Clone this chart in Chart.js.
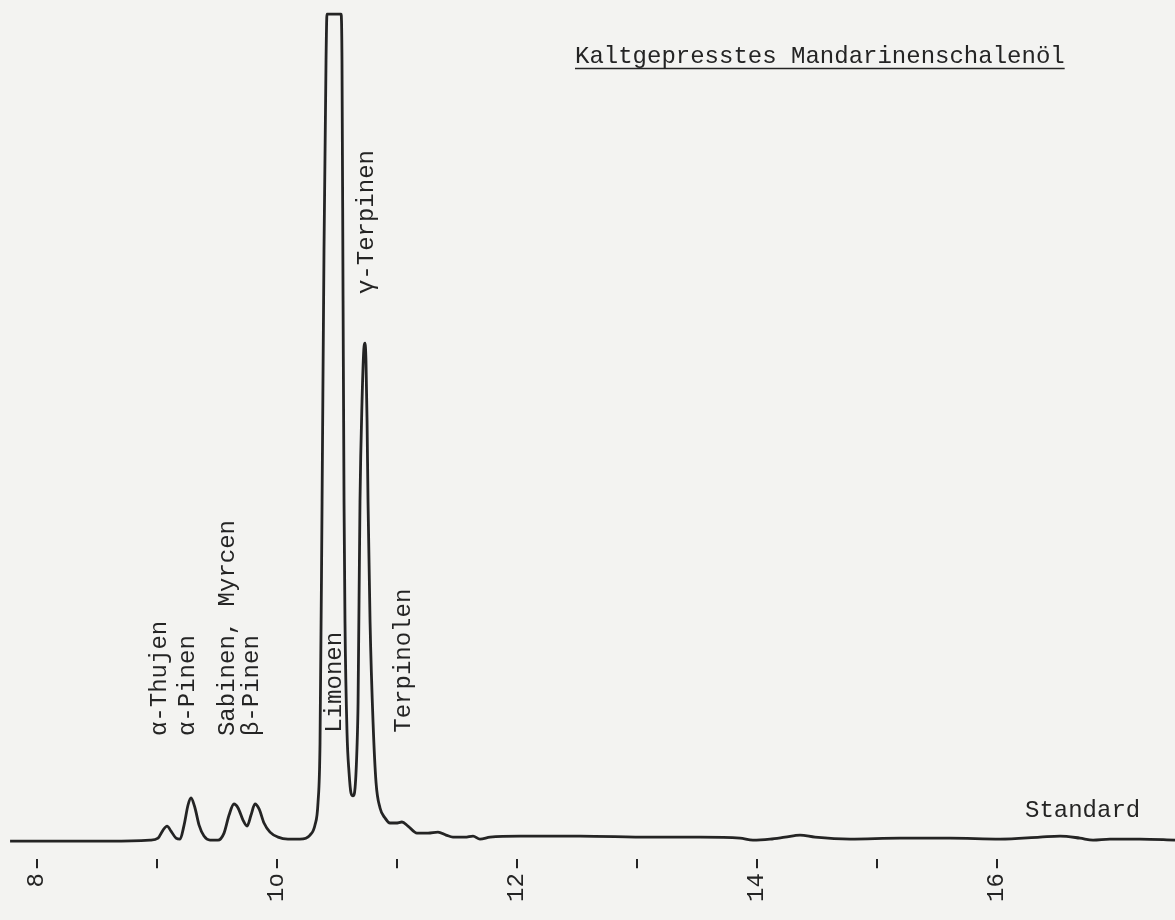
<!DOCTYPE html>
<html>
<head>
<meta charset="utf-8">
<script src="https://cdn.jsdelivr.net/npm/chart.js@4.4.1/dist/chart.umd.min.js"></script>
<style>
  html, body { margin: 0; padding: 0; background: #f3f3f1; }
  #wrap { width: 1175px; height: 920px; position: relative; }
</style>
</head>
<body>
<div id="wrap"><canvas id="gcChart"></canvas></div>
<script>
// Retentionszeit (min) und Detektorsignal (relative Einheiten, 100 = Anschlag)
const retentionMin = [
  7.778, 8.194, 8.611, 8.944, 9.011, 9.053, 9.086, 9.119, 9.161, 9.194,
  9.228, 9.261, 9.286, 9.319, 9.353, 9.394, 9.444, 9.511, 9.561, 9.603,
  9.644, 9.678, 9.719, 9.753, 9.786, 9.819, 9.853, 9.894, 9.944, 10.011,
  10.094, 10.194, 10.278, 10.319, 10.344, 10.361, 10.378, 10.394, 10.411, 10.419,
  10.536, 10.544, 10.553, 10.561, 10.569, 10.586, 10.603, 10.619, 10.636, 10.653,
  10.669, 10.678, 10.694, 10.711, 10.728, 10.736, 10.744, 10.753, 10.761, 10.778,
  10.803, 10.828, 10.861, 10.903, 10.944, 10.994, 11.044, 11.094, 11.169, 11.261,
  11.344, 11.411, 11.469, 11.569, 11.636, 11.694, 11.778, 12.028, 12.528, 13.111,
  13.528, 13.861, 13.969, 14.111, 14.236, 14.361, 14.486, 14.778, 15.194, 15.611,
  16.028, 16.361, 16.528, 16.694, 16.803, 16.944, 17.194, 17.486
];
const signal = [
  -0.12, -0.12, -0.12, 0.0, 0.24, 1.22, 1.70, 1.09, 0.24, 0.12,
  1.82, 4.25, 5.10, 3.89, 1.82, 0.49, 0.0, 0.0, 0.85, 3.04,
  4.37, 3.89, 2.43, 1.70, 3.04, 4.37, 3.77, 2.07, 0.97, 0.36,
  0.12, 0.12, 0.61, 1.82, 4.50, 11.79, 40.95, 71.32, 94.41, 100,
  100, 94.41, 65.25, 40.95, 26.37, 13.00, 8.14, 5.71, 5.35, 6.32,
  11.18, 16.65, 40.95, 53.10, 59.78, 60.15, 57.96, 50.67, 40.95, 26.37,
  14.22, 6.93, 3.89, 2.67, 2.07, 2.07, 2.19, 1.70, 0.85, 0.85,
  0.97, 0.61, 0.36, 0.36, 0.49, 0.12, 0.36, 0.49, 0.49, 0.36,
  0.36, 0.24, 0.0, 0.12, 0.36, 0.61, 0.36, 0.12, 0.24, 0.24,
  0.12, 0.36, 0.49, 0.24, 0.0, 0.12, 0.12, 0.0
];

// Peakzuordnung
const peakNames = ['α-Thujen', 'α-Pinen', 'Sabinen, Myrcen', 'β-Pinen', 'Limonen', 'γ-Terpinen', 'Terpinolen'];
const peakTimes = [9.028, 9.261, 9.594, 9.794, 10.486, 10.753, 11.061];

const tickMinutes = [8, 9, 10, 11, 12, 13, 14, 15, 16];
const chartTitle = 'Kaltgepresstes Mandarinenschalenöl';
const seriesName = 'Standard';

const FONT = "'Liberation Mono', 'DejaVu Sans Mono', monospace";
const INK = '#242424';

// Beschriftungen direkt auf die Zeichenfläche
const labelPlugin = {
  id: 'peakLabels',
  afterDatasetsDraw(chart) {
    const ctx = chart.ctx;
    const xs = chart.scales.x, ys = chart.scales.y;
    // Höhe (Signal) an der die gedrehte Beschriftung beginnt
    const labelStart = [12.6, 12.6, 12.6, 12.6, 13.0, 66.1, 13.0];
    ctx.save();
    ctx.fillStyle = INK;
    ctx.font = '24px ' + FONT;
    ctx.textBaseline = 'middle';
    ctx.textAlign = 'left';
    peakNames.forEach((name, i) => {
      ctx.save();
      ctx.translate(xs.getPixelForValue(peakTimes[i]), ys.getPixelForValue(labelStart[i]));
      ctx.rotate(-Math.PI / 2);
      ctx.fillText(name, 0, 0);
      ctx.restore();
    });

    ctx.textBaseline = 'alphabetic';
    ctx.fillText(seriesName, 1025, 817);

    ctx.fillText(chartTitle, 575, 63);
    const w = ctx.measureText(chartTitle).width;
    ctx.strokeStyle = INK;
    ctx.lineWidth = 1.6;
    ctx.beginPath();
    ctx.moveTo(575, 68.5);
    ctx.lineTo(575 + w, 68.5);
    ctx.stroke();
    ctx.restore();
  }
};

new Chart(document.getElementById('gcChart'), {
  type: 'line',
  data: {
    datasets: [{
      label: seriesName,
      data: retentionMin.map((t, i) => ({ x: t, y: signal[i] })),
      borderColor: INK,
      borderWidth: 2.8,
      pointRadius: 0,
      fill: false,
      cubicInterpolationMode: 'monotone'
    }]
  },
  options: {
    responsive: true,
    maintainAspectRatio: false,
    animation: false,
    layout: { padding: { left: 0, right: 0, top: 0, bottom: 13 } },
    plugins: {
      legend: { display: false },
      tooltip: { enabled: false }
    },
    scales: {
      x: {
        type: 'linear',
        min: 7.694,
        max: 17.486,
        afterBuildTicks: axis => { axis.ticks = tickMinutes.map(v => ({ value: v })); },
        border: { display: false },
        grid: {
          drawOnChartArea: false,
          drawTicks: true,
          tickLength: 9,
          color: INK,
          lineWidth: 2
        },
        ticks: {
          autoSkip: false,
          minRotation: 90,
          maxRotation: 90,
          padding: 5,
          color: INK,
          font: { family: FONT, size: 24 },
          callback: v => v % 2 === 0 ? (v === 10 ? '1o' : String(v)) : ''
        }
      },
      y: {
        display: false,
        min: -2.31,
        max: 101.7
      }
    }
  },
  plugins: [labelPlugin]
});
</script>
</body>
</html>
